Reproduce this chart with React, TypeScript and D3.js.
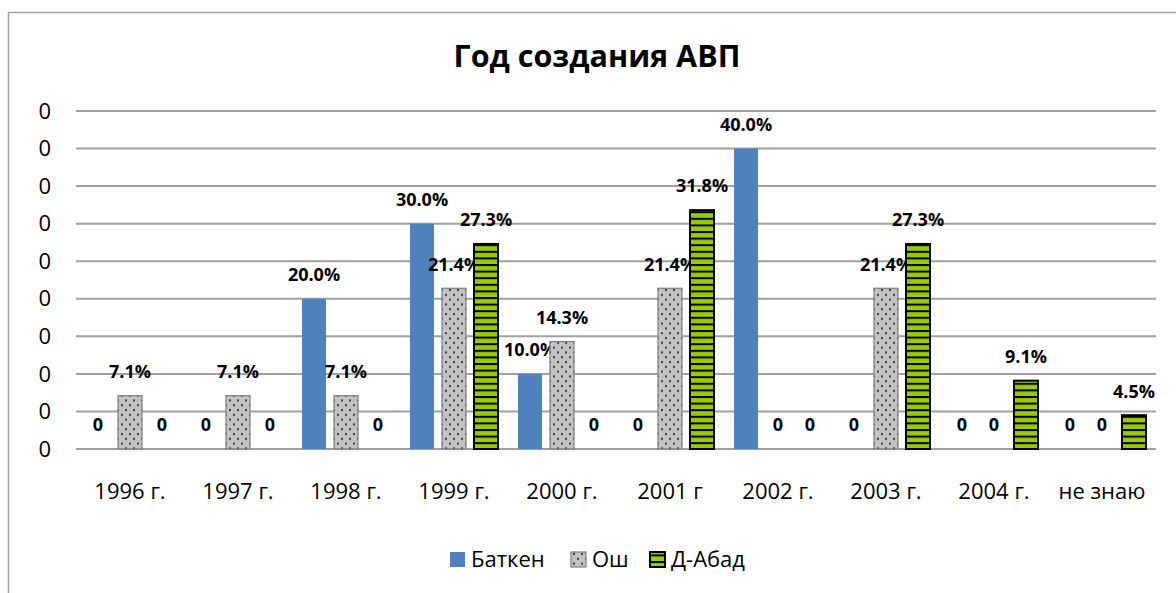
import React, { useEffect, useRef } from 'react';
import * as d3 from 'd3';

const categories = ['1996 г.', '1997 г.', '1998 г.', '1999 г.', '2000 г.', '2001 г', '2002 г.', '2003 г.', '2004 г.', 'не знаю'];
const seriesNames = ['Баткен', 'Ош', 'Д-Абад'];
const batken = [0, 0, 0.2, 0.3, 0.1, 0, 0.4, 0, 0, 0];
const osh = [0.071, 0.071, 0.071, 0.214, 0.143, 0.214, 0, 0.214, 0, 0];
const dAbad = [0, 0, 0, 0.273, 0, 0.318, 0, 0.273, 0.091, 0.045];
const yTicks = [0, 0.05, 0.1, 0.15, 0.2, 0.25, 0.3, 0.35, 0.4, 0.45];
const title = 'Год создания АВП';

const FONT = '"Open Sans", "Liberation Sans", sans-serif';

const App: React.FC = () => {
  const svgRef = useRef<SVGSVGElement | null>(null);

  useEffect(() => {
    if (!svgRef.current) return;
    const width = 1176;
    const height = 593;
    const svg = d3.select(svgRef.current).attr('width', width).attr('height', height);
    svg.selectAll('*').remove();

    const plotLeft = 76;
    const plotRight = 1156;
    const plotTop = 111;
    const plotBottom = 449;

    const defs = svg.append('defs');
    // dotted pattern for Ош
    const dots = defs.append('pattern')
      .attr('id', 'dots')
      .attr('patternUnits', 'userSpaceOnUse')
      .attr('width', 8)
      .attr('height', 9.6);
    dots.append('rect').attr('width', 8).attr('height', 9.6).attr('fill', '#c3c3c3');
    dots.append('rect').attr('x', 1).attr('y', 1).attr('width', 2).attr('height', 2).attr('fill', '#3a3a3a');
    dots.append('rect').attr('x', 5).attr('y', 5.8).attr('width', 2).attr('height', 2).attr('fill', '#3a3a3a');

    // horizontal stripes for Д-Абад
    const stripes = defs.append('pattern')
      .attr('id', 'stripes')
      .attr('patternUnits', 'userSpaceOnUse')
      .attr('width', 8)
      .attr('height', 6.6);
    stripes.append('rect').attr('width', 8).attr('height', 6.6).attr('fill', '#99cc00');
    stripes.append('rect').attr('y', 0).attr('width', 8).attr('height', 2).attr('fill', '#000');

    // chart frame
    svg.append('rect')
      .attr('x', 8.5).attr('y', 12.5)
      .attr('width', 1200).attr('height', 620)
      .attr('fill', '#fff')
      .attr('stroke', '#a3a3a3')
      .attr('stroke-width', 1.5);

    svg.append('text')
      .attr('x', 597)
      .attr('y', 67)
      .attr('text-anchor', 'middle')
      .style('font-family', FONT)
      .style('font-weight', 'bold')
      .style('font-size', '30.5px')
      .text(title);

    const x0 = d3.scaleBand<string>().domain(categories).range([plotLeft, plotRight]);
    const x1 = d3.scaleBand<string>().domain(seriesNames).range([10, 98]).paddingInner(0.25);
    const y = d3.scaleLinear().domain([0, 0.45]).range([plotBottom, plotTop]);

    // grid lines
    svg.append('g')
      .selectAll('line')
      .data(yTicks)
      .enter()
      .append('line')
      .attr('x1', plotLeft)
      .attr('x2', plotRight)
      .attr('y1', d => y(d))
      .attr('y2', d => y(d))
      .attr('stroke', '#a0a0a0')
      .attr('stroke-width', 2);

    // y tick labels (shown as "0")
    svg.append('g')
      .selectAll('text')
      .data(yTicks)
      .enter()
      .append('text')
      .attr('x', 51)
      .attr('y', d => y(d))
      .attr('dy', '0.35em')
      .attr('text-anchor', 'end')
      .style('font-family', FONT)
      .style('font-size', '22px')
      .text(d => d3.format('.0f')(d));

    const seriesData = [batken, osh, dAbad];
    const fills = ['#4f81bd', 'url(#dots)', 'url(#stripes)'];
    const strokes = ['none', '#7f7f7f', '#000'];
    const strokeW = [0, 1.2, 2];

    seriesNames.forEach((s, si) => {
      const g = svg.append('g');
      const rows = categories.map((c, i) => ({ c, v: seriesData[si][i] }));
      g.selectAll('rect')
        .data(rows.filter(d => d.v > 0))
        .enter()
        .append('rect')
        .attr('x', d => (x0(d.c) ?? 0) + (x1(s) ?? 0))
        .attr('y', d => y(d.v))
        .attr('width', x1.bandwidth())
        .attr('height', d => y(0) - y(d.v))
        .attr('fill', fills[si])
        .attr('stroke', strokes[si])
        .attr('stroke-width', strokeW[si]);

      g.selectAll('text')
        .data(rows)
        .enter()
        .append('text')
        .attr('x', d => (x0(d.c) ?? 0) + (x1(s) ?? 0) + x1.bandwidth() / 2)
        .attr('y', d => y(d.v) - 24)
        .attr('dy', '0.35em')
        .attr('text-anchor', 'middle')
        .style('font-family', FONT)
        .style('font-weight', 'bold')
        .style('font-size', '18px')
        .text(d => (d.v > 0 ? d3.format('.1%')(d.v) : '0'));
    });

    // category labels
    svg.append('g')
      .selectAll('text')
      .data(categories)
      .enter()
      .append('text')
      .attr('x', d => (x0(d) ?? 0) + x0.bandwidth() / 2)
      .attr('y', 499)
      .attr('text-anchor', 'middle')
      .style('font-family', FONT)
      .style('font-size', '22px')
      .text(d => d);

    // legend
    const legendX = [450, 571, 650];
    const legend = svg.append('g');
    seriesNames.forEach((s, si) => {
      legend.append('rect')
        .attr('x', legendX[si])
        .attr('y', 552)
        .attr('width', 15)
        .attr('height', 15)
        .attr('fill', fills[si])
        .attr('stroke', strokes[si])
        .attr('stroke-width', strokeW[si]);
      legend.append('text')
        .attr('x', legendX[si] + 21)
        .attr('y', 567)
        .style('font-family', FONT)
        .style('font-size', '22px')
        .text(s);
    });
  }, []);

  return (
    <div style={{ position: 'absolute', left: 0, top: 0, width: 1176, height: 593 }}>
      <svg ref={svgRef}></svg>
    </div>
  );
};

export default App;
